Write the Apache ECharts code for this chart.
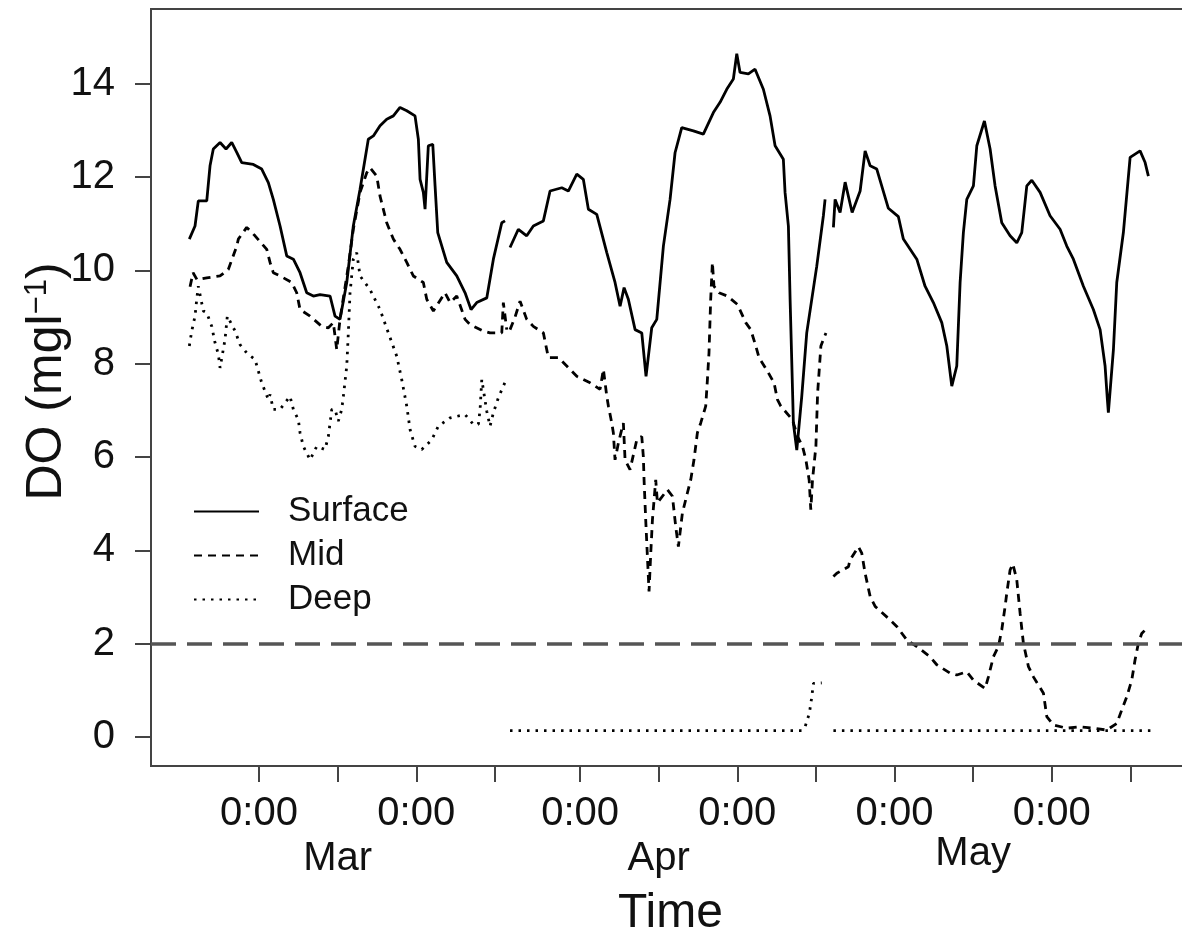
<!DOCTYPE html>
<html><head><meta charset="utf-8">
<script src="https://cdn.jsdelivr.net/npm/echarts@6/dist/echarts.min.js"></script>
<style>html,body{margin:0;padding:0;background:#fff}#c{width:1182px;height:937px}</style>
</head><body><div id="c"></div>
<script>
// Time in hours (0 = first midnight tick); null values separate the three deployments
const surfaceHours = [-10.64,-9.77,-9.27,-7.98,-7.48,-6.98,-5.95,-5.04,-4.17,-3.40,-2.64,-0.87,0.41,1.42,2.18,3.21,4.23,5.24,6.26,7.28,8.29,9.31,10.84,11.60,12.36,13.39,14.39,15.42,16.68,17.45,18.47,19.49,20.50,21.52,22.55,23.81,24.32,24.58,25.08,25.34,25.84,26.52,26.87,27.28,28.65,30.18,31.45,32.36,33.23,34.76,35.77,37.05,37.55,
 38.0,
 38.31,39.58,40.86,41.87,43.40,44.42,46.21,47.21,48.50,49.50,50.27,51.55,53.08,54.34,55.11,55.72,56.37,57.40,58.42,59.07,59.94,60.71,61.72,62.74,63.50,64.52,66.30,67.82,69.35,70.37,71.39,72.40,72.92,73.42,74.69,75.71,76.98,78.00,78.77,80.03,80.29,80.80,81.06,81.47,81.56,82.08,82.84,83.60,85.13,86.14,86.40,
 87.0,
 87.67,87.93,88.69,89.46,90.53,91.75,92.51,93.28,94.29,96.06,97.59,98.35,100.40,101.66,102.93,104.21,104.98,105.74,106.50,107.01,107.51,108.03,109.04,109.56,110.72,111.59,112.35,113.37,114.64,115.66,116.42,117.19,117.95,119.22,120.74,122.27,123.29,124.30,125.83,127.35,128.38,129.14,129.49,129.64,130.41,130.92,131.93,132.96,134.48,135.25,135.75];
const surfaceDO = [10.67,10.95,11.49,11.49,12.24,12.6,12.74,12.6,12.74,12.53,12.31,12.27,12.17,11.88,11.52,10.95,10.31,10.24,9.95,9.52,9.45,9.48,9.45,9.02,8.95,9.74,10.95,11.74,12.81,12.88,13.1,13.24,13.31,13.49,13.42,13.31,12.81,11.95,11.67,11.31,12.67,12.70,11.81,10.81,10.17,9.88,9.52,9.16,9.31,9.41,10.24,11.02,11.06,
 null,
 10.49,10.88,10.74,10.95,11.06,11.70,11.77,11.70,12.06,11.95,11.31,11.20,10.38,9.74,9.23,9.63,9.38,8.73,8.66,7.73,8.77,8.95,10.52,11.52,12.52,13.06,12.99,12.92,13.38,13.60,13.88,14.10,14.64,14.24,14.21,14.31,13.88,13.31,12.67,12.38,11.67,10.95,9.38,7.23,6.73,6.15,7.30,8.66,10.09,11.17,11.52,
 null,
 10.92,11.52,11.24,11.89,11.24,11.70,12.56,12.24,12.17,11.33,11.15,10.67,10.24,9.66,9.31,8.88,8.38,7.52,7.95,9.74,10.81,11.52,11.81,12.67,13.20,12.60,11.81,11.02,10.74,10.59,10.81,11.81,11.93,11.67,11.17,10.88,10.52,10.24,9.66,9.16,8.73,7.95,7.23,6.95,8.30,9.74,10.81,12.42,12.56,12.31,12.02];

const midHours = [-10.53,-10.07,-9.46,-7.98,-5.95,-4.69,-3.40,-3.16,-1.88,-0.61,1.18,1.68,2.18,3.21,4.99,5.75,6.26,7.79,9.57,10.58,11.34,11.86,12.36,13.63,14.39,15.42,16.44,16.94,17.97,18.47,19.49,20.50,21.52,22.55,23.55,25.08,25.60,26.61,28.39,29.16,30.18,31.45,32.21,34.24,35.26,37.05,37.29,37.81,
 38.0,
 38.31,39.08,39.84,40.86,41.87,43.40,44.16,45.69,46.97,48.50,50.53,52.05,52.56,53.08,53.33,53.84,54.08,54.34,54.85,55.61,55.87,56.63,57.66,58.42,58.66,58.77,59.02,59.28,59.53,59.79,60.05,60.55,60.81,62.33,63.10,63.60,64.01,64.62,65.38,65.89,66.39,66.91,67.42,68.18,68.44,68.68,68.94,69.20,69.44,70.21,71.49,73.02,74.29,75.05,75.82,76.32,77.60,78.61,79.13,79.64,81.42,82.19,82.95,83.47,83.97,84.22,84.48,85.00,85.26,85.76,86.53,
 87.0,
 87.67,88.19,89.96,90.22,91.49,92.00,92.51,93.28,94.04,96.33,97.34,98.87,100.40,102.43,103.45,105.48,106.50,108.03,109.04,110.82,111.33,112.09,112.86,113.37,113.88,114.13,114.64,115.05,115.66,116.17,116.67,117.44,118.20,119.73,120.24,121.25,123.29,125.32,127.35,129.39,130.92,131.68,132.44,133.21,133.71,134.22,134.73,135.50];
const midDO = [9.65,9.95,9.80,9.84,9.88,10.02,10.52,10.67,10.92,10.74,10.45,10.17,9.95,9.88,9.74,9.52,9.16,9.02,8.80,8.77,8.88,8.30,8.95,10.09,10.88,11.67,12.09,12.20,12.02,11.59,11.02,10.67,10.45,10.17,9.88,9.74,9.38,9.13,9.52,9.31,9.45,8.95,8.84,8.70,8.66,8.66,9.31,8.73,
 null,
 8.73,9.00,9.34,8.95,8.80,8.66,8.13,8.13,7.95,7.73,7.59,7.45,7.88,7.30,7.09,6.73,6.52,5.94,6.30,6.73,5.94,5.73,6.37,6.44,6.01,5.51,4.66,3.87,3.12,3.94,4.66,5.51,5.02,5.30,5.16,4.51,4.08,4.80,5.23,5.51,5.94,6.52,6.73,7.09,7.66,8.23,9.38,10.17,9.66,9.52,9.45,9.27,8.88,8.73,8.38,8.13,7.84,7.59,7.23,7.09,6.80,6.44,6.23,5.94,5.51,4.87,5.51,6.23,7.37,8.38,8.66,
 null,
 3.44,3.51,3.65,3.80,4.08,3.94,3.51,3.01,2.80,2.51,2.37,2.08,1.94,1.72,1.55,1.37,1.33,1.40,1.22,1.04,1.29,1.72,1.94,2.30,2.80,3.08,3.58,3.71,3.37,2.65,2.01,1.51,1.29,0.94,0.44,0.26,0.19,0.22,0.19,0.15,0.29,0.58,0.86,1.22,1.65,2.01,2.22,2.33];

const deepHours = [-10.64,-10.27,-9.77,-9.51,-9.27,-8.50,-7.98,-7.22,-6.72,-6.21,-5.95,-5.19,-4.84,-3.66,-2.90,-1.88,-0.61,0.41,1.42,1.68,2.18,3.21,4.73,5.24,6.00,6.26,6.76,7.79,8.81,10.07,10.58,10.84,11.10,11.60,12.10,12.62,12.87,13.39,13.63,13.89,14.39,14.91,15.42,16.94,18.47,19.74,21.02,21.78,22.55,23.05,23.81,24.84,26.36,27.37,29.16,31.45,32.71,33.48,33.74,34.00,34.76,35.26,35.77,36.53,37.29,37.55,
 38.0,
 38.31,45.0,52.0,60.0,67.0,75.0,82.84,83.35,84.00,84.37,84.62,85.89,
 87.0,
 87.67,95.0,102.0,110.0,118.0,126.0,134.0,136.1];
const deepDO = [8.38,8.70,9.02,9.38,9.66,9.13,9.09,8.80,8.45,8.20,7.91,8.52,9.02,8.70,8.41,8.23,8.09,7.59,7.23,7.34,7.02,7.02,7.30,7.02,6.80,6.52,6.23,5.94,6.23,6.16,6.44,6.73,7.02,7.02,6.77,7.02,7.30,7.95,8.66,9.52,10.24,10.38,9.88,9.59,9.16,8.66,8.16,7.66,7.09,6.59,6.23,6.16,6.37,6.66,6.84,6.91,6.70,6.70,7.02,7.66,6.98,6.66,6.95,7.27,7.52,7.60,
 null,
 0.14,0.14,0.14,0.14,0.14,0.14,0.14,0.22,0.51,0.86,1.15,1.16,
 null,
 0.14,0.14,0.14,0.14,0.14,0.14,0.14,0.14];

const tickHours = [0,12,24,36,49,61,73,85,97,109,121,133];
const midnightHours = [0,24,49,73,97,121];
const midnightLabel = '0:00';
const monthHours = [12,61,109];
const monthLabels = ['Mar','Apr','May'];
const yTicks = [0,2,4,6,8,10,12,14];
const threshold = 2;

const FONT = '"Liberation Sans", Arial, Helvetica, sans-serif';
const INK = '#111';
const FRAME = '#444';
const xMin = -16.49, xMax = 142.1;

const pairs = (h, v) => h.map((x, i) => [x, v[i]]);

const chart = echarts.init(document.getElementById('c'), null, {renderer: 'canvas'});
chart.setOption({
  animation: false,
  backgroundColor: '#fff',
  grid: {left: 151, right: -8, top: 9, bottom: 171, show: true, borderColor: FRAME, borderWidth: 2,
    outerBoundsMode: 'none', containLabel: false},
  legend: {
    orient: 'vertical', left: 188, top: 489, itemWidth: 65, itemHeight: 14, itemGap: 9,
    selectedMode: false, data: ['Surface', 'Mid', 'Deep'],
    itemStyle: {opacity: 0},
    formatter: n => '{t|' + n + '}',
    textStyle: {fontFamily: FONT, fontSize: 35, color: INK,
      rich: {t: {fontFamily: FONT, fontSize: 35, color: INK, padding: [0, 0, 0, 24]}}}
  },
  xAxis: [{
    type: 'value', min: xMin, max: xMax,
    name: 'Time', nameLocation: 'middle', nameGap: 124, nameMoveOverlap: false,
    nameTextStyle: {fontFamily: FONT, fontSize: 48, color: INK},
    axisLine: {show: true, onZero: false, lineStyle: {color: FRAME, width: 2}},
    axisTick: {show: true, length: 16, customValues: tickHours, lineStyle: {color: FRAME, width: 2}},
    axisLabel: {customValues: midnightHours, formatter: () => midnightLabel, margin: 28,
      fontFamily: FONT, fontSize: 40, color: INK, lineHeight: 40},
    splitLine: {show: false}
  }, {
    type: 'value', min: xMin, max: xMax, position: 'bottom',
    axisLine: {show: false}, axisTick: {show: false}, splitLine: {show: false},
    axisLabel: {customValues: monthHours, margin: 68, fontFamily: FONT, fontSize: 40, color: INK,
      formatter: v => {
        const i = monthHours.indexOf(Math.round(v));
        return (i === 2 ? '{hi|' : '{lo|') + monthLabels[i] + '}';
      },
      rich: {
        lo: {fontFamily: FONT, fontSize: 40, color: INK, lineHeight: 40, padding: [9, 0, 0, 0]},
        hi: {fontFamily: FONT, fontSize: 40, color: INK, lineHeight: 40}
      }}
  }],
  yAxis: {
    type: 'value', min: -0.62, max: 15.6,
    name: '{a|DO (mgl}{s|−1}{a|)}', nameLocation: 'middle', nameGap: 79, nameMoveOverlap: false,
    nameTextStyle: {padding: [0, 0, 0, 12], rich: {
      a: {fontFamily: FONT, fontSize: 50, color: INK, lineHeight: 50},
      s: {fontFamily: FONT, fontSize: 31, color: INK, lineHeight: 50, verticalAlign: 'top'}
    }},
    axisLine: {show: true, onZero: false, lineStyle: {color: FRAME, width: 2}},
    axisTick: {show: true, length: 16, customValues: yTicks, lineStyle: {color: FRAME, width: 2}},
    axisLabel: {customValues: yTicks, margin: 36, fontFamily: FONT, fontSize: 40, color: INK},
    splitLine: {show: false}
  },
  series: [{
    name: 'Surface', type: 'line', data: pairs(surfaceHours, surfaceDO),
    symbol: 'none', showSymbol: false, connectNulls: false,
    lineStyle: {color: '#000', width: 2.8, type: 'solid'}, itemStyle: {color: '#000'},
    markLine: {silent: true, symbol: ['none', 'none'], label: {show: false},
      lineStyle: {color: '#555', width: 3.5, type: [25, 11]}, data: [{yAxis: threshold}]}
  }, {
    name: 'Mid', type: 'line', data: pairs(midHours, midDO),
    symbol: 'none', showSymbol: false, connectNulls: false,
    lineStyle: {color: '#000', width: 2.8, type: [8, 6]}, itemStyle: {color: '#000'}
  }, {
    name: 'Deep', type: 'line', data: pairs(deepHours, deepDO),
    symbol: 'none', showSymbol: false, connectNulls: false,
    lineStyle: {color: '#000', width: 2.8, type: [2.5, 6]}, itemStyle: {color: '#000'}
  }]
});
</script>
</body></html>
